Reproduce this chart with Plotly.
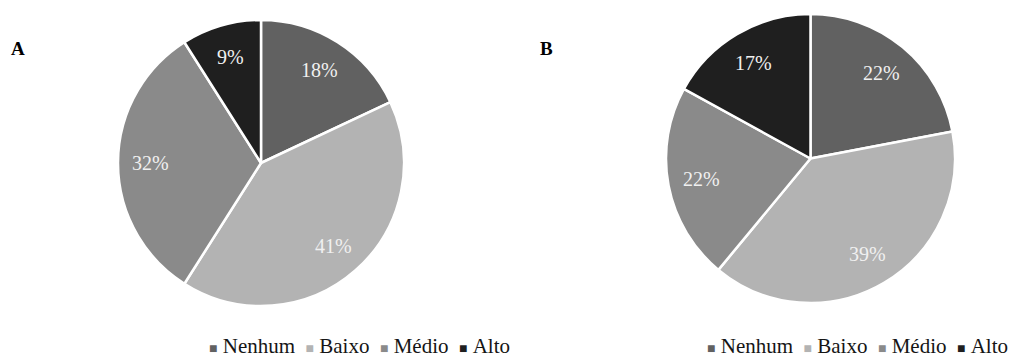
import math
import plotly.graph_objects as go

categories = ["Nenhum", "Baixo", "Médio", "Alto"]
values_a = [18, 41, 32, 9]
values_b = [22, 39, 22, 17]
colors = ["#616161", "#b3b3b3", "#8a8a8a", "#1f1f1f"]

W, H = 1018, 362
font_family = "Liberation Serif, Times New Roman, serif"
LABEL_FRAC = 0.77

# pie domains in pixels: (left, right, top, bottom)
dom_a = (117, 405, 20, 306)
dom_b = (666, 955, 14, 303)


def pie(values, dom):
    l, r, t, b = dom
    return go.Pie(
        labels=categories, values=values, sort=False, direction="clockwise", rotation=0,
        marker=dict(colors=colors, line=dict(color="white", width=2.5)),
        textinfo="none",
        domain=dict(x=[l/W, r/W], y=[1-b/H, 1-t/H]), showlegend=False,
        hoverinfo="label+percent",
    )


def slice_labels(values, dom):
    l, r, t, b = dom
    cx, cy = (l + r) / 2, (t + b) / 2
    rad = min(r - l, b - t) / 2
    total = sum(values)
    out = []
    cum = 0
    for v in values:
        mid = (cum + v / 2) / total * 2 * math.pi
        cum += v
        px = cx + LABEL_FRAC * rad * math.sin(mid)
        py = cy - LABEL_FRAC * rad * math.cos(mid)
        out.append(dict(text=f"{v}%", x=px/W, y=1-py/H, xanchor="center", yanchor="middle",
                        font=dict(family=font_family, size=20, color="#f0f0f0")))
    return out


fig = go.Figure()
fig.add_trace(pie(values_a, dom_a))
fig.add_trace(pie(values_b, dom_b))


def legend_text():
    parts = []
    for cat, col in zip(categories, colors):
        parts.append(f"<span style='font-size:14px;color:{col}'>■</span>\u00a0{cat}")
    return "\u00a0\u00a0".join(parts)


annotations = [
    dict(text="<b>A</b>", x=18/W, y=1-48/H, xanchor="center", yanchor="middle",
         font=dict(family=font_family, size=19, color="black")),
    dict(text="<b>B</b>", x=546/W, y=1-48/H, xanchor="center", yanchor="middle",
         font=dict(family=font_family, size=19, color="black")),
    dict(text=legend_text(), x=359/W, y=1-346/H, xanchor="center", yanchor="middle",
         font=dict(family=font_family, size=21, color="#151515")),
    dict(text=legend_text(), x=857/W, y=1-346/H, xanchor="center", yanchor="middle",
         font=dict(family=font_family, size=21, color="#151515")),
]
annotations += slice_labels(values_a, dom_a)
annotations += slice_labels(values_b, dom_b)
for a in annotations:
    a.update(xref="paper", yref="paper", showarrow=False)

fig.update_layout(
    width=W, height=H,
    margin=dict(l=0, r=0, t=0, b=0),
    paper_bgcolor="white", plot_bgcolor="white",
    font=dict(family=font_family),
    showlegend=False,
    annotations=annotations,
)

fig.write_html("out.html", config={"displayModeBar": False},
               post_script="document.body.style.margin='0';")
